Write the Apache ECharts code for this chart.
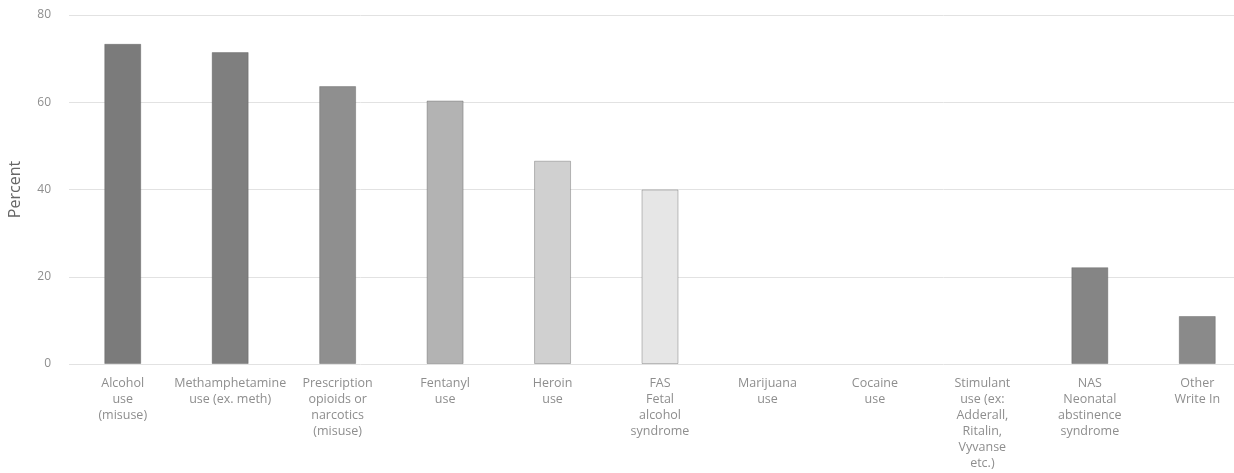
<!DOCTYPE html>
<html>
<head>
<meta charset="utf-8">
<script src="https://cdn.jsdelivr.net/npm/echarts@6/dist/echarts.min.js"></script>
<style>
html,body{margin:0;padding:0;background:#fff;}
#chart{width:1234px;height:473px;}
</style>
</head>
<body>
<div id="chart"></div>
<script>
const categories = [
  "Alcohol\nuse\n(misuse)",
  "Methamphetamine\nuse (ex. meth)",
  "Prescription\nopioids or\nnarcotics\n(misuse)",
  "Fentanyl\nuse",
  "Heroin\nuse",
  "FAS\nFetal\nalcohol\nsyndrome",
  "Marijuana\nuse",
  "Cocaine\nuse",
  "Stimulant\nuse (ex:\nAdderall,\nRitalin,\nVyvanse\netc.)",
  "NAS\nNeonatal\nabstinence\nsyndrome",
  "Other\nWrite In"
];
const percentValues = [73.4, 71.5, 63.7, 60.4, 46.6, 40.0, 0, 0, 0, 22.2, 11.0];
const barColors = ["#7b7b7b", "#7f7f7f", "#8f8f8f", "#b3b3b3", "#d0d0d0", "#e6e6e6", "#bbbbbb", "#bbbbbb", "#bbbbbb", "#858585", "#8a8a8a"];
const yTicks = [0, 20, 40, 60, 80];

const FONT = '"Open Sans", Lato, sans-serif';
const chart = echarts.init(document.getElementById('chart'), null, {renderer: 'canvas'});
chart.setOption({
  animation: false,
  backgroundColor: '#ffffff',
  grid: {left: 69, width: 1182, top: 15, bottom: 109, containLabel: false, outerBoundsMode: 'none'},
  xAxis: {
    type: 'category',
    data: categories,
    axisLine: {show: false},
    axisTick: {show: false},
    axisLabel: {
      interval: 0,
      color: '#8e8e8e',
      fontSize: 12.5,
      lineHeight: 16,
      margin: 11,
      fontFamily: FONT
    }
  },
  yAxis: {
    type: 'value',
    min: yTicks[0],
    max: yTicks[yTicks.length - 1],
    interval: 20,
    name: 'Percent',
    nameLocation: 'middle',
    nameGap: 46,
    nameTextStyle: {color: '#666', fontSize: 16, fontFamily: FONT},
    axisLine: {show: false},
    axisTick: {show: false},
    axisLabel: {color: '#8e8e8e', fontSize: 12, margin: 18, fontFamily: FONT},
    splitLine: {lineStyle: {color: '#e2e2e2', width: 1}}
  },
  series: [{
    type: 'bar',
    barWidth: 37,
    data: percentValues.map((v, i) => ({
      value: v,
      itemStyle: {color: barColors[i], borderColor: 'rgba(80,80,80,0.35)', borderWidth: v > 0 ? 1 : 0}
    }))
  }]
});
</script>
</body>
</html>
